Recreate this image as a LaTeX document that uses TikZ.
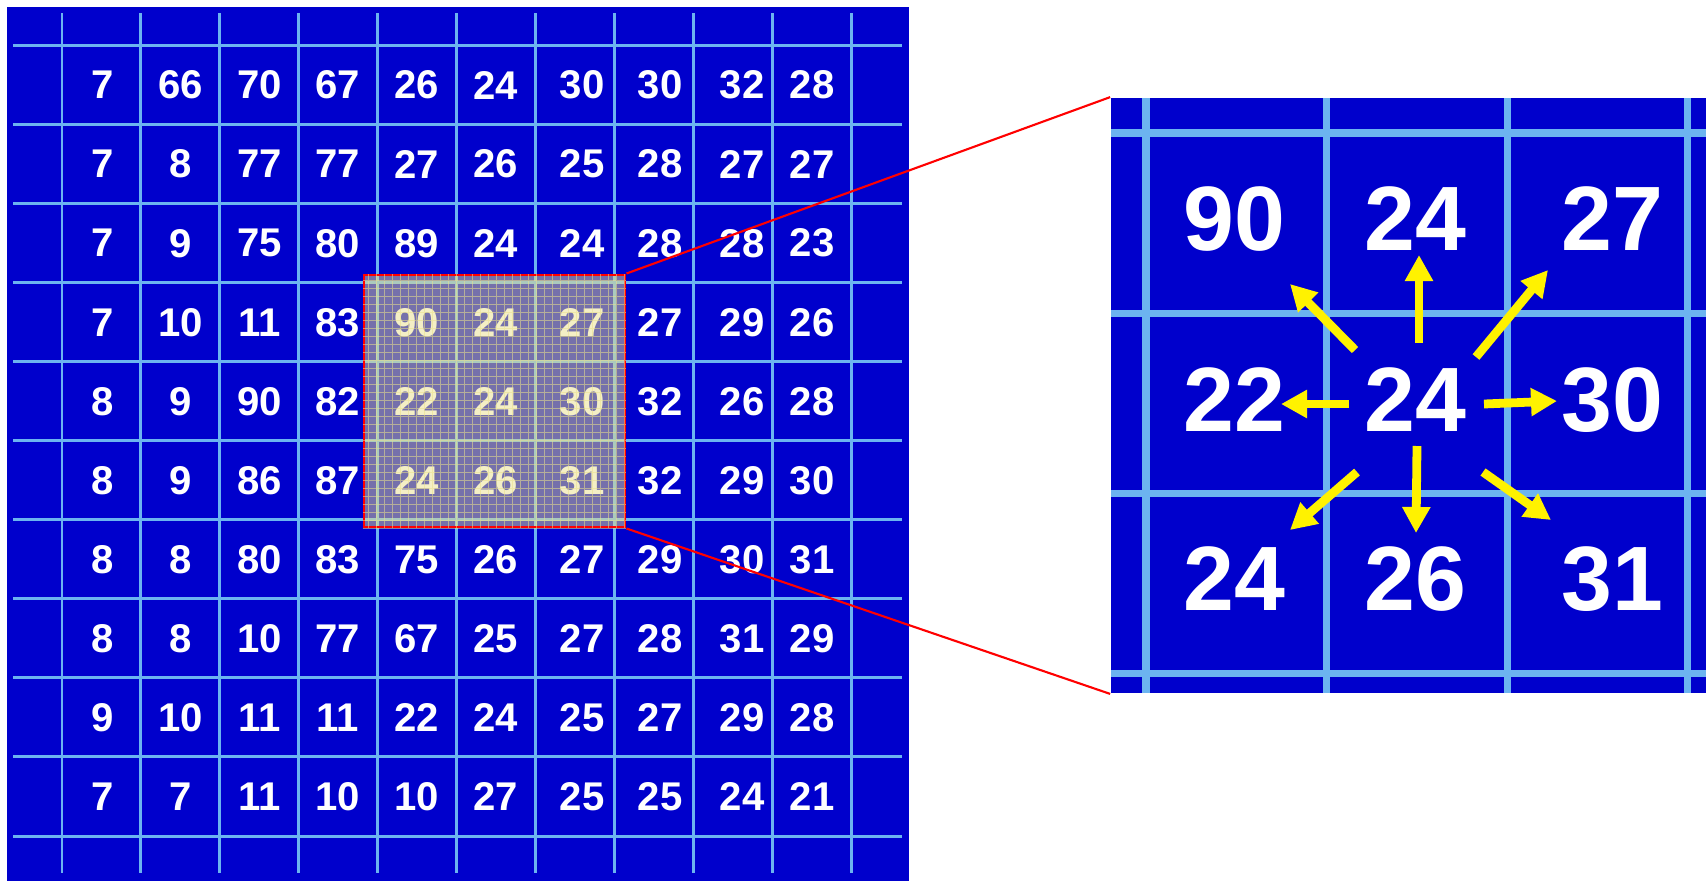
\documentclass[tikz,border=0pt]{standalone}
\usepackage{fontspec}
\setmainfont{Liberation Sans}
\usetikzlibrary{arrows.meta,positioning,calc}
\definecolor{imgblue}{RGB}{0,0,204}
\definecolor{gridblue}{RGB}{108,180,240}
\definecolor{tint}{RGB}{235,225,140}
\tikzset{
  panel/.style={fill=imgblue, draw=none, inner sep=0pt},
  gridline/.style={gridblue, line width=0.85pt},
  biggrid/.style={gridblue, line width=2pt},
  cellnum/.style={text=white, font=\fontsize{11.4}{13}\selectfont\bfseries, inner sep=0pt},
  bignum/.style={text=white, font=\fontsize{26}{30}\selectfont\bfseries, inner sep=0pt},
  winbox/.style={draw=red, line width=0.8pt, fill=tint, fill opacity=0.5, inner sep=0pt, minimum width=2.61cm, minimum height=2.52cm},
  zoomline/.style={red, line width=0.6pt},
  yarrow/.style={-{Triangle[length=7.4pt,width=7.6pt]}, yellow, line width=2.5pt}
}

\begin{document}
\begin{tikzpicture}[x=0.01cm, y=-0.01cm]
  \useasboundingbox (0,0) rectangle (1706,881);
  % left image with its grid
  \node[panel, minimum width=9.02cm, minimum height=8.74cm] (img) at (458,444) {};
  \foreach \k in {0,...,10} {
    \draw[gridline] (13,{45+79.1*\k}) -- (902,{45+79.1*\k});
    \draw[gridline] ({62+78.9*\k},13) -- ({62+78.9*\k},873);
  }
  \foreach \row [count=\r] in {{7,66,70,67,26,24,30,30,32,28},{7,8,77,77,27,26,25,28,27,27},
      {7,9,75,80,89,24,24,28,28,23},{7,10,11,83,90,24,27,27,29,26},{8,9,90,82,22,24,30,32,26,28},
      {8,9,86,87,24,26,31,32,29,30},{8,8,80,83,75,26,27,29,30,31},{8,8,10,77,67,25,27,28,31,29},
      {9,10,11,11,22,24,25,27,29,28},{7,7,11,10,10,27,25,25,24,21}} {
    \foreach \v [count=\c] in \row {
      \pgfmathsetmacro\cx{{103,181,260,338,417,496,582,660,742,812}[\c-1]}
      \pgfmathsetmacro\cy{85+79.1*(\r-1)}
      \node[cellnum] (m-\r-\c) at (\cx,\cy) {\v};
    }
  }
  % window
  \node[winbox] (win) at (494.5,401) {};
  \begin{scope}
    \clip (win.south west) rectangle (win.north east);
    \draw[tint, line width=0.3pt, opacity=0.55, step=0.08cm] (win.south west) grid (win.north east);
  \end{scope}
  % zoomed window
  \node[panel, minimum width=5.95cm, minimum height=5.95cm] (zoom) at (1408.5,395.5) {};
  \foreach \k in {0,...,3} {
    \draw[biggrid] ({1146+180.6*\k},98) -- ({1146+180.6*\k},693);
    \draw[biggrid] (1111,{133+180.3*\k}) -- (1706,{133+180.3*\k});
  }
  \node[bignum] (nw) at (1234,219) {90};
  \node[bignum] (n) at (1415,219) {24};
  \node[bignum] (ne) at (1612,219) {27};
  \node[bignum] (w) at (1234,400) {22};
  \node[bignum] (c) at (1415,400) {24};
  \node[bignum] (e) at (1612,400) {30};
  \node[bignum] (sw) at (1234,579) {24};
  \node[bignum] (s) at (1415,579) {26};
  \node[bignum] (se) at (1612,579) {31};
  % neighbour arrows
  \coordinate (n0) at (1419,343);  \coordinate (n1) at (1419,255);
  \coordinate (nw0) at (1355,350); \coordinate (nw1) at (1290,284);
  \coordinate (ne0) at (1476,357); \coordinate (ne1) at (1548,270);
  \coordinate (w0) at (1349,404);  \coordinate (w1) at (1281,404);
  \coordinate (e0) at (1484,404);  \coordinate (e1) at (1557,401);
  \coordinate (s0) at (1417,446);  \coordinate (s1) at (1416,533);
  \coordinate (sw0) at (1357,472); \coordinate (sw1) at (1290,530);
  \coordinate (se0) at (1483,472); \coordinate (se1) at (1551,520);
  \draw[yarrow] (n0)--(n1); \draw[yarrow] (nw0)--(nw1);
  \draw[yarrow] (ne0)--(ne1); \draw[yarrow] (w0)--(w1);
  \draw[yarrow] (e0)--(e1); \draw[yarrow] (s0)--(s1);
  \draw[yarrow] (sw0)--(sw1); \draw[yarrow] (se0)--(se1);
  \draw[zoomline] (win.north east) -- (zoom.north west);
  \draw[zoomline] (win.south east) -- (zoom.south west);
\end{tikzpicture}
\end{document}
